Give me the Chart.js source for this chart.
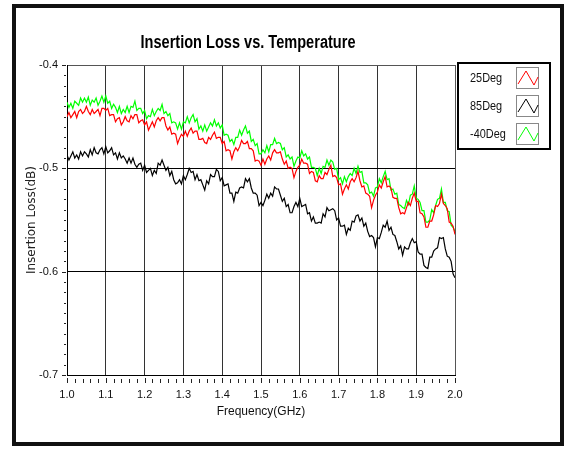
<!DOCTYPE html>
<html>
<head>
<meta charset="utf-8">
<script src="https://cdn.jsdelivr.net/npm/chart.js@4.4.0/dist/chart.umd.min.js"></script>
<style>
    html, body { margin: 0; padding: 0; background: #fff; }
    #wrap { position: relative; width: 571px; height: 449px; }
    #frame { position: absolute; left: 12px; top: 4px; width: 544px; height: 434px; border: 4px solid #111; }
    #il-chart { position: absolute; left: 0; top: 0; }
</style>
</head>
<body>
<div id="wrap">
    <div id="frame"></div>
    <canvas id="il-chart" width="571" height="449"></canvas>
</div>
<script>
const freqGHz = [
    1.000, 1.005, 1.010, 1.015, 1.020, 1.025, 1.030, 1.035, 1.040, 1.045, 1.050, 1.055, 1.060, 1.065, 1.070, 1.075, 1.080, 1.085, 1.090, 1.095,
    1.100, 1.105, 1.110, 1.115, 1.120, 1.125, 1.130, 1.135, 1.140, 1.145, 1.150, 1.155, 1.160, 1.165, 1.170, 1.175, 1.180, 1.185, 1.190, 1.195,
    1.200, 1.205, 1.210, 1.215, 1.220, 1.225, 1.230, 1.235, 1.240, 1.245, 1.250, 1.255, 1.260, 1.265, 1.270, 1.275, 1.280, 1.285, 1.290, 1.295,
    1.300, 1.305, 1.310, 1.315, 1.320, 1.325, 1.330, 1.335, 1.340, 1.345, 1.350, 1.355, 1.360, 1.365, 1.370, 1.375, 1.380, 1.385, 1.390, 1.395,
    1.400, 1.405, 1.410, 1.415, 1.420, 1.425, 1.430, 1.435, 1.440, 1.445, 1.450, 1.455, 1.460, 1.465, 1.470, 1.475, 1.480, 1.485, 1.490, 1.495,
    1.500, 1.505, 1.510, 1.515, 1.520, 1.525, 1.530, 1.535, 1.540, 1.545, 1.550, 1.555, 1.560, 1.565, 1.570, 1.575, 1.580, 1.585, 1.590, 1.595,
    1.600, 1.605, 1.610, 1.615, 1.620, 1.625, 1.630, 1.635, 1.640, 1.645, 1.650, 1.655, 1.660, 1.665, 1.670, 1.675, 1.680, 1.685, 1.690, 1.695,
    1.700, 1.705, 1.710, 1.715, 1.720, 1.725, 1.730, 1.735, 1.740, 1.745, 1.750, 1.755, 1.760, 1.765, 1.770, 1.775, 1.780, 1.785, 1.790, 1.795,
    1.800, 1.805, 1.810, 1.815, 1.820, 1.825, 1.830, 1.835, 1.840, 1.845, 1.850, 1.855, 1.860, 1.865, 1.870, 1.875, 1.880, 1.885, 1.890, 1.895,
    1.900, 1.905, 1.910, 1.915, 1.920, 1.925, 1.930, 1.935, 1.940, 1.945, 1.950, 1.955, 1.960, 1.965, 1.970, 1.975, 1.980, 1.985, 1.990, 1.995,
    2.000
];

// 25Deg (red)
const loss25 = [
    -0.450, -0.446, -0.451, -0.448, -0.445, -0.451, -0.445, -0.443, -0.447, -0.445,
    -0.440, -0.445, -0.448, -0.443, -0.447, -0.445, -0.443, -0.449, -0.442, -0.442,
    -0.444, -0.442, -0.449, -0.448, -0.448, -0.455, -0.452, -0.451, -0.458, -0.455,
    -0.450, -0.454, -0.455, -0.449, -0.452, -0.448, -0.448, -0.456, -0.454, -0.453,
    -0.458, -0.455, -0.463, -0.459, -0.455, -0.460, -0.454, -0.451, -0.454, -0.451,
    -0.451, -0.459, -0.463, -0.460, -0.467, -0.466, -0.467, -0.476, -0.471, -0.467,
    -0.469, -0.464, -0.469, -0.464, -0.461, -0.466, -0.464, -0.464, -0.472, -0.472,
    -0.471, -0.475, -0.476, -0.470, -0.472, -0.468, -0.465, -0.471, -0.470, -0.470,
    -0.476, -0.474, -0.483, -0.482, -0.483, -0.491, -0.484, -0.480, -0.483, -0.479,
    -0.473, -0.476, -0.476, -0.474, -0.481, -0.481, -0.483, -0.493, -0.492, -0.493,
    -0.497, -0.491, -0.496, -0.491, -0.488, -0.492, -0.485, -0.482, -0.485, -0.485,
    -0.484, -0.491, -0.496, -0.493, -0.500, -0.499, -0.500, -0.509, -0.503, -0.499,
    -0.497, -0.491, -0.495, -0.495, -0.496, -0.505, -0.503, -0.504, -0.512, -0.513,
    -0.507, -0.510, -0.510, -0.504, -0.506, -0.501, -0.497, -0.508, -0.507, -0.509,
    -0.516, -0.515, -0.525, -0.520, -0.516, -0.520, -0.513, -0.510, -0.513, -0.509,
    -0.503, -0.512, -0.518, -0.517, -0.524, -0.525, -0.527, -0.538, -0.531, -0.526,
    -0.523, -0.516, -0.519, -0.513, -0.508, -0.518, -0.517, -0.519, -0.528, -0.529,
    -0.529, -0.538, -0.544, -0.543, -0.544, -0.538, -0.533, -0.536, -0.529, -0.524,
    -0.532, -0.532, -0.543, -0.544, -0.547, -0.557, -0.557, -0.551, -0.551, -0.545,
    -0.536, -0.537, -0.534, -0.525, -0.534, -0.536, -0.539, -0.552, -0.553, -0.556,
    -0.564
];

// 85Deg (black)
const loss85 = [
    -0.487, -0.492, -0.488, -0.484, -0.490, -0.487, -0.491, -0.484, -0.488, -0.484,
    -0.486, -0.489, -0.482, -0.487, -0.480, -0.485, -0.486, -0.482, -0.480, -0.486,
    -0.479, -0.485, -0.483, -0.480, -0.487, -0.485, -0.491, -0.485, -0.490, -0.488,
    -0.491, -0.495, -0.490, -0.495, -0.490, -0.496, -0.499, -0.496, -0.495, -0.502,
    -0.497, -0.504, -0.502, -0.500, -0.507, -0.502, -0.505, -0.495, -0.497, -0.492,
    -0.497, -0.502, -0.499, -0.507, -0.503, -0.511, -0.515, -0.514, -0.511, -0.515,
    -0.507, -0.511, -0.506, -0.500, -0.504, -0.503, -0.511, -0.506, -0.512, -0.511,
    -0.516, -0.521, -0.512, -0.515, -0.506, -0.508, -0.508, -0.501, -0.503, -0.512,
    -0.509, -0.517, -0.516, -0.515, -0.524, -0.524, -0.532, -0.523, -0.524, -0.519,
    -0.518, -0.519, -0.510, -0.513, -0.510, -0.519, -0.524, -0.524, -0.526, -0.536,
    -0.533, -0.536, -0.531, -0.525, -0.529, -0.524, -0.527, -0.518, -0.520, -0.520,
    -0.526, -0.532, -0.529, -0.537, -0.535, -0.543, -0.543, -0.537, -0.533, -0.537,
    -0.529, -0.537, -0.536, -0.535, -0.544, -0.543, -0.551, -0.547, -0.553, -0.553,
    -0.552, -0.553, -0.544, -0.547, -0.538, -0.541, -0.540, -0.539, -0.541, -0.550,
    -0.548, -0.556, -0.556, -0.555, -0.564, -0.558, -0.560, -0.551, -0.552, -0.546,
    -0.545, -0.551, -0.548, -0.556, -0.553, -0.561, -0.566, -0.565, -0.567, -0.576,
    -0.567, -0.568, -0.562, -0.555, -0.557, -0.551, -0.560, -0.557, -0.564, -0.565,
    -0.571, -0.578, -0.575, -0.584, -0.576, -0.578, -0.578, -0.572, -0.568, -0.572,
    -0.571, -0.581, -0.583, -0.583, -0.594, -0.596, -0.597, -0.586, -0.586, -0.580,
    -0.578, -0.577, -0.567, -0.568, -0.567, -0.578, -0.585, -0.586, -0.590, -0.602,
    -0.606
];

// -40Deg (green)
const lossMinus40 = [
    -0.436, -0.441, -0.437, -0.442, -0.435, -0.437, -0.439, -0.432, -0.436, -0.432,
    -0.436, -0.431, -0.439, -0.434, -0.436, -0.432, -0.439, -0.435, -0.430, -0.436,
    -0.430, -0.437, -0.435, -0.442, -0.438, -0.441, -0.446, -0.440, -0.447, -0.443,
    -0.446, -0.440, -0.446, -0.440, -0.441, -0.435, -0.444, -0.442, -0.442, -0.447,
    -0.444, -0.452, -0.449, -0.450, -0.443, -0.449, -0.445, -0.442, -0.444, -0.438,
    -0.447, -0.445, -0.449, -0.447, -0.456, -0.455, -0.456, -0.462, -0.456, -0.462,
    -0.455, -0.456, -0.450, -0.456, -0.451, -0.448, -0.455, -0.452, -0.462, -0.459,
    -0.464, -0.458, -0.464, -0.460, -0.456, -0.459, -0.453, -0.459, -0.456, -0.461,
    -0.458, -0.468, -0.467, -0.468, -0.474, -0.472, -0.477, -0.470, -0.470, -0.463,
    -0.468, -0.463, -0.459, -0.466, -0.464, -0.474, -0.472, -0.478, -0.476, -0.486,
    -0.486, -0.482, -0.485, -0.478, -0.484, -0.477, -0.477, -0.471, -0.476, -0.475,
    -0.476, -0.482, -0.480, -0.489, -0.487, -0.491, -0.489, -0.498, -0.493, -0.489,
    -0.490, -0.483, -0.488, -0.486, -0.491, -0.489, -0.499, -0.499, -0.500, -0.507,
    -0.500, -0.505, -0.498, -0.499, -0.492, -0.497, -0.492, -0.494, -0.501, -0.500,
    -0.511, -0.509, -0.515, -0.508, -0.513, -0.508, -0.505, -0.507, -0.500, -0.505,
    -0.498, -0.504, -0.503, -0.514, -0.514, -0.516, -0.524, -0.523, -0.527, -0.519,
    -0.518, -0.510, -0.514, -0.508, -0.503, -0.511, -0.510, -0.521, -0.520, -0.525,
    -0.524, -0.535, -0.536, -0.538, -0.539, -0.531, -0.535, -0.526, -0.525, -0.517,
    -0.529, -0.530, -0.533, -0.541, -0.541, -0.552, -0.552, -0.550, -0.540, -0.543,
    -0.536, -0.530, -0.529, -0.520, -0.533, -0.533, -0.541, -0.542, -0.555, -0.557,
    -0.561
];

const seriesNames = ["25Deg", "85Deg", "-40Deg"];
const seriesColors = ["#ff0000", "#000000", "#00ff00"];
const xTicks = [1.0, 1.1, 1.2, 1.3, 1.4, 1.5, 1.6, 1.7, 1.8, 1.9, 2.0];
const yTicks = [-0.4, -0.5, -0.6, -0.7];

const sans = "'Liberation Sans', Arial, sans-serif";

const toPoints = (vals) => vals.map((v, i) => ({ x: freqGHz[i], y: v }));

// squeezed text, the original graph uses a narrow face
const narrowText = (ctx, text, x, y, squeeze) => {
    ctx.save();
    ctx.translate(x, y);
    ctx.scale(squeeze, 1);
    ctx.fillText(text, 0, 0);
    ctx.restore();
};

// minor ticks, title and legend box like the old LabVIEW graph
const decoPlugin = {
    id: "deco",
    afterDraw(chart) {
        const ctx = chart.ctx;
        const xs = chart.scales.x;
        const ys = chart.scales.y;
        const area = chart.chartArea;
        ctx.save();
        ctx.strokeStyle = "#222";
        ctx.lineWidth = 1;
        // y ticks, every 0.01
        for (let k = 0; k <= 30; k++) {
            const py = Math.round(ys.getPixelForValue(-0.7 + k * 0.01)) + 0.5;
            const major = k % 10 === 0;
            ctx.beginPath();
            ctx.moveTo(area.left - (major ? 5 : 3), py);
            ctx.lineTo(area.left - 1, py);
            ctx.stroke();
        }
        // x ticks, every 0.02
        for (let k = 0; k <= 50; k++) {
            const px = Math.round(xs.getPixelForValue(1 + k * 0.02)) + 0.5;
            const major = k % 5 === 0;
            ctx.beginPath();
            ctx.moveTo(px, area.bottom + (major ? 3 : 4));
            ctx.lineTo(px, area.bottom + 8);
            ctx.stroke();
        }

        // title
        const title = "Insertion Loss vs. Temperature";
        ctx.fillStyle = "#000";
        ctx.font = "bold 18px " + sans;
        ctx.textAlign = "center";
        ctx.textBaseline = "middle";
        const tw = ctx.measureText(title).width;
        narrowText(ctx, title, 248, 43, 215 / tw);

        // legend
        ctx.lineWidth = 2;
        ctx.strokeStyle = "#000";
        ctx.strokeRect(458, 63, 92, 86);
        chart.data.datasets.forEach((ds, i) => {
            const top = 67 + i * 28;
            ctx.fillStyle = "#111";
            ctx.font = "13px " + sans;
            ctx.textAlign = "left";
            narrowText(ctx, ds.label, 470, top + 11, 0.84);
            ctx.lineWidth = 1;
            ctx.strokeStyle = "#888";
            ctx.strokeRect(516.5, top + 0.5, 22, 21);
            ctx.strokeStyle = ds.borderColor;
            ctx.beginPath();
            ctx.moveTo(518, top + 17);
            ctx.lineTo(526, top + 4);
            ctx.lineTo(534, top + 18);
            ctx.lineTo(538, top + 10);
            ctx.stroke();
        });
        ctx.restore();
    },
};

const ctx = document.querySelector("#il-chart");

new Chart(ctx, {
    type: "line",
    data: {
        datasets: [
            { label: seriesNames[0], data: toPoints(loss25), borderColor: seriesColors[0] },
            { label: seriesNames[1], data: toPoints(loss85), borderColor: seriesColors[1] },
            { label: seriesNames[2], data: toPoints(lossMinus40), borderColor: seriesColors[2] },
        ],
    },
    options: {
        responsive: false,
        animation: false,
        events: [],
        datasets: {
            line: { borderWidth: 1.2, pointRadius: 0, tension: 0, fill: false },
        },
        layout: { padding: { left: 0, top: 65, right: 116, bottom: 0 } },
        plugins: {
            legend: { display: false },
            tooltip: { enabled: false },
            title: { display: false },
        },
        scales: {
            x: {
                type: "linear",
                min: 1.0,
                max: 2.0,
                afterFit: (scale) => { scale.height = 74; },
                afterBuildTicks: (scale) => {
                    scale.ticks = xTicks.map((v) => ({ value: v }));
                },
                ticks: {
                    color: "#111",
                    font: { family: sans, size: 11 },
                    padding: 13,
                    maxRotation: 0,
                    autoSkip: false,
                    callback: (v) => Number(v).toFixed(1),
                },
                grid: {
                    drawTicks: false,
                    color: (c) => (c.tick && Math.abs(c.tick.value - 2) < 1e-6 ? "#555" : "#333"),
                    lineWidth: 1,
                },
                border: { display: true, color: "#000", width: 1 },
                title: {
                    display: true,
                    text: "Frequency(GHz)",
                    color: "#111",
                    font: { family: sans, size: 12 },
                    padding: { top: 0, bottom: 30 },
                },
            },
            y: {
                type: "linear",
                min: -0.7,
                max: -0.4,
                afterFit: (scale) => { scale.width = 67; },
                afterBuildTicks: (scale) => {
                    scale.ticks = yTicks.map((v) => ({ value: v }));
                },
                ticks: {
                    color: "#111",
                    font: { family: sans, size: 11 },
                    padding: 9,
                    callback: (v) => Number(v).toFixed(1),
                },
                grid: {
                    drawTicks: false,
                    color: (c) => (c.tick && Math.abs(c.tick.value + 0.4) < 1e-6 ? "#555" : "#000"),
                    lineWidth: 1,
                },
                border: { display: true, color: "#000", width: 1 },
                title: {
                    display: true,
                    text: "Insertion Loss(dB)",
                    color: "#222",
                    font: { family: "'DejaVu Sans', sans-serif", size: 12 },
                    padding: { top: 25, bottom: 0 },
                },
            },
        },
    },
    plugins: [decoPlugin],
});
</script>
</body>
</html>
